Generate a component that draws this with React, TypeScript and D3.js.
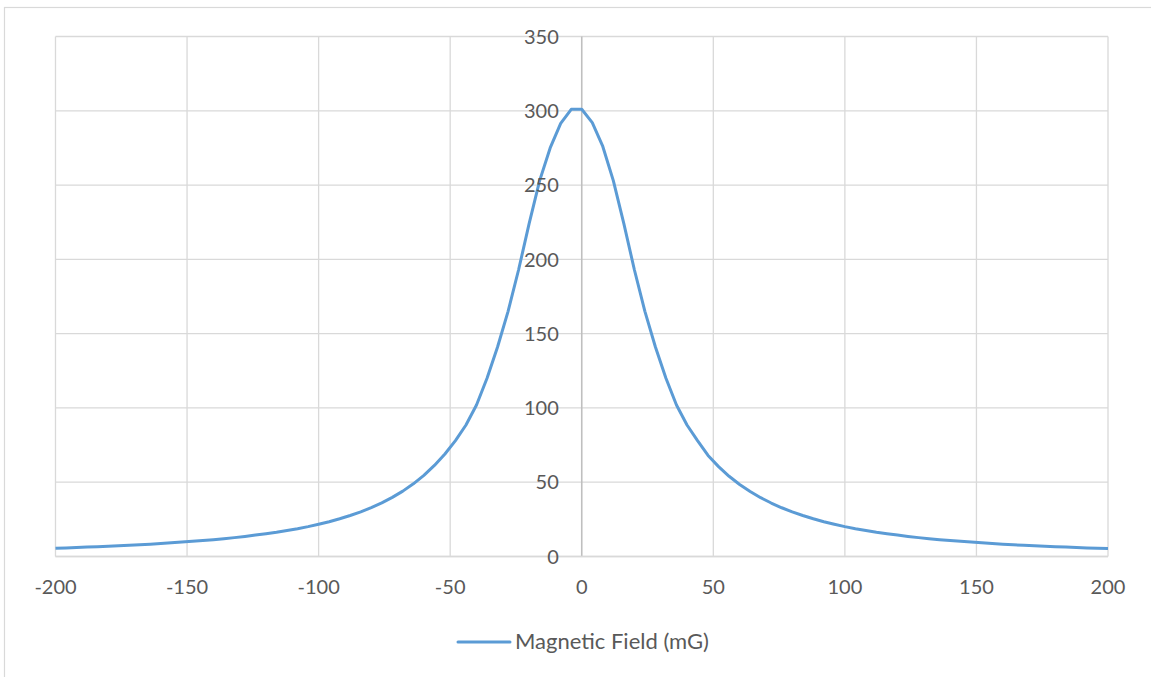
import React from "react";
import * as d3 from "d3";

const xValues: number[] = [
  -200, -196, -192, -188, -184, -180, -176, -172, -168, -164, -160, -156, -152, -148, -144, -140, -136, -132, -128, -124,
  -120, -116, -112, -108, -104, -100, -96, -92, -88, -84, -80, -76, -72, -68, -64, -60, -56, -52, -48, -44,
  -40, -36, -32, -28, -24, -20, -16, -12, -8, -4,
  0, 4, 8, 12, 16, 20, 24, 28, 32, 36, 40, 44, 48, 52, 56, 60, 64, 68, 72, 76,
  80, 84, 88, 92, 96, 100, 104, 108, 112, 116, 120, 124, 128, 132, 136, 140, 144, 148, 152, 156,
  160, 164, 168, 172, 176, 180, 184, 188, 192, 196, 200,
];

const fieldValues: number[] = [
  5.6, 5.8, 6.1, 6.4, 6.6, 6.9, 7.2, 7.6, 7.9, 8.3, 8.7, 9.2, 9.7, 10.2, 10.7, 11.3, 12.0, 12.7, 13.5, 14.4,
  15.3, 16.3, 17.5, 18.7, 20.1, 21.7, 23.4, 25.4, 27.6, 30.0, 32.9, 36.1, 39.8, 44.0, 48.9, 54.6, 61.3, 69, 78, 88.5,
  102, 120, 141, 165, 193, 224, 253, 275, 291.5, 301,
  301, 292, 276, 253, 224, 193, 165, 141, 120, 102, 88.5, 78, 68, 60.5, 54, 48.5, 43.8, 39.6, 36.0, 32.8,
  30.0, 27.6, 25.4, 23.4, 21.7, 20.1, 18.7, 17.5, 16.3, 15.3, 14.4, 13.5, 12.7, 12.0, 11.3, 10.7, 10.2, 9.7, 9.2, 8.7,
  8.3, 7.9, 7.6, 7.2, 6.9, 6.6, 6.4, 6.1, 5.8, 5.6, 5.4,
];

const xTicks: number[] = [-200, -150, -100, -50, 0, 50, 100, 150, 200];
const yTicks: number[] = [0, 50, 100, 150, 200, 250, 300, 350];
const seriesName = "Magnetic Field (mG)";

const W = 1151;
const H = 677;
const left = 55.5;
const right = 1108;
const top = 36.5;
const bottom = 556.5;
const font = "Lato, 'Open Sans', sans-serif";
const textColor = "#595959";
const gridColor = "#d9d9d9";
const lineColor = "#5b9bd5";

export default function App() {
  const x = d3.scaleLinear().domain([-200, 200]).range([left, right]);
  const y = d3.scaleLinear().domain([0, 350]).range([bottom, top]);
  const points: [number, number][] = xValues.map((v, i) => [v, fieldValues[i]]);
  const line = d3
    .line<[number, number]>()
    .x((d) => x(d[0]))
    .y((d) => y(d[1]));

  return (
    <svg
      width={W}
      height={H}
      style={{ position: "absolute", left: 0, top: 0, background: "#fff" }}
    >
      <rect x={4.5} y={7.5} width={1150} height={690} fill="#fff" stroke={gridColor} strokeWidth={1.2} />
      {yTicks.map((t) => (
        <line key={"gy" + t} x1={left} x2={right} y1={y(t)} y2={y(t)} stroke={gridColor} strokeWidth={1.3} />
      ))}
      {xTicks.map((t) => (
        <line
          key={"gx" + t}
          x1={x(t)}
          x2={x(t)}
          y1={top}
          y2={bottom}
          stroke={t === 0 ? "#bfbfbf" : gridColor}
          strokeWidth={t === 0 ? 1.6 : 1.3}
        />
      ))}
      <line x1={left} x2={right} y1={y(0)} y2={y(0)} stroke={gridColor} strokeWidth={1.6} />
      <path d={line(points) || ""} fill="none" stroke={lineColor} strokeWidth={3} strokeLinejoin="round" />
      {yTicks.map((t) => (
        <text
          key={"ty" + t}
          x={x(0) - 23}
          y={y(t)}
          dy="0.36em"
          textAnchor="end"
          fontFamily={font}
          fontSize={20}
          fill={textColor}
        >
          {t}
        </text>
      ))}
      {xTicks.map((t) => (
        <text
          key={"tx" + t}
          x={x(t)}
          y={594}
          textAnchor="middle"
          fontFamily={font}
          fontSize={20}
          fill={textColor}
        >
          {t}
        </text>
      ))}
      <line x1={458} x2={510} y1={642} y2={642} stroke={lineColor} strokeWidth={3} strokeLinecap="round" />
      <text x={515} y={649} fontFamily={font} fontSize={22} fill={textColor}>
        {seriesName}
      </text>
    </svg>
  );
}
